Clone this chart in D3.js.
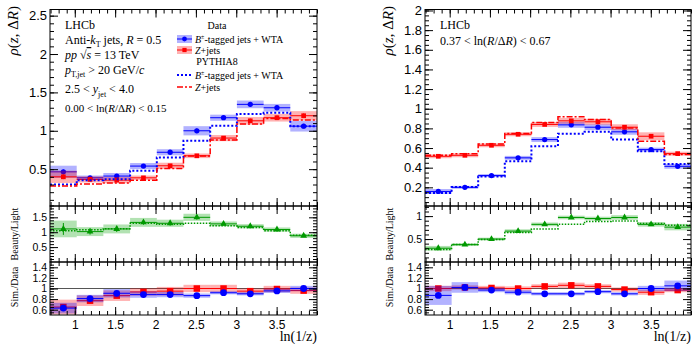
<!DOCTYPE html>
<html lang="en">
<head>
<meta charset="UTF-8" />
<title>rho(z, dR)</title>
<script src="https://cdn.jsdelivr.net/npm/d3@7"></script>
<style>
  body { margin: 0; background: #fff; }
  svg { display: block; font-family: "Liberation Serif", "DejaVu Serif", serif; }
  .tick line { stroke: #000; }
  .tick text { fill: #000; }
</style>
</head>
<body>
<div id="container"></div>
<script>
// ln(1/z) bin edges
const binEdges = [0.693, 1.024, 1.354, 1.685, 2.016, 2.346, 2.677, 3.008, 3.339, 3.669, 4.0];
const xMajor = [1, 1.5, 2, 2.5, 3, 3.5];

// left: 0.00 < ln(R/dR) < 0.15
const leftBData = [0.465, 0.387, 0.41, 0.54, 0.72, 1.0, 1.17, 1.344, 1.30, 1.06];
const leftBStat = [0.03, 0.02, 0.02, 0.02, 0.02, 0.03, 0.02, 0.03, 0.03, 0.03];
const leftBSyst = [0.08, 0.03, 0.04, 0.04, 0.04, 0.06, 0.04, 0.05, 0.05, 0.07];
const leftZData = [0.40, 0.366, 0.357, 0.387, 0.544, 0.674, 0.905, 1.13, 1.17, 1.196];
const leftZStat = [0.03, 0.02, 0.02, 0.02, 0.02, 0.02, 0.02, 0.03, 0.03, 0.03];
const leftZSyst = [0.08, 0.04, 0.04, 0.03, 0.04, 0.03, 0.04, 0.05, 0.05, 0.06];
const leftBSim = [0.30, 0.357, 0.37, 0.478, 0.653, 0.87, 1.065, 1.218, 1.235, 1.06];
const leftZSim = [0.279, 0.305, 0.32, 0.357, 0.51, 0.67, 0.88, 1.087, 1.16, 1.14];
const leftRatio = [1.11, 1.02, 1.11, 1.33, 1.30, 1.50, 1.28, 1.20, 1.09, 0.88];
const leftRatioStat = [0.2, 0.1, 0.1, 0.08, 0.08, 0.08, 0.05, 0.04, 0.04, 0.03];
const leftRatioSyst = [0.28, 0.15, 0.15, 0.15, 0.12, 0.12, 0.08, 0.07, 0.07, 0.07];
const leftRatioSim = [1.05, 1.08, 1.12, 1.30, 1.27, 1.30, 1.22, 1.16, 1.05, 0.90];
const leftBSimData = [0.63, 0.81, 0.91, 0.885, 0.885, 0.865, 0.92, 0.90, 0.955, 1.0];
const leftBSimDataErr = [0.1, 0.07, 0.08, 0.06, 0.05, 0.04, 0.03, 0.03, 0.04, 0.05];
const leftZSimData = [0.65, 0.77, 0.865, 0.935, 0.95, 1.0, 1.0, 0.95, 0.99, 0.96];
const leftZSimDataErr = [0.14, 0.1, 0.1, 0.07, 0.08, 0.07, 0.07, 0.05, 0.06, 0.06];

// right: 0.37 < ln(R/dR) < 0.67
const rightBData = [0.158, 0.20, 0.32, 0.50, 0.686, 0.836, 0.812, 0.765, 0.584, 0.414];
const rightBStat = [0.012, 0.008, 0.008, 0.01, 0.01, 0.012, 0.012, 0.012, 0.01, 0.01];
const rightBSyst = [0.025, 0.015, 0.015, 0.02, 0.025, 0.03, 0.03, 0.03, 0.02, 0.025];
const rightZData = [0.516, 0.526, 0.628, 0.74, 0.84, 0.877, 0.867, 0.812, 0.72, 0.543];
const rightZStat = [0.01, 0.008, 0.008, 0.008, 0.01, 0.01, 0.01, 0.01, 0.012, 0.012];
const rightZSyst = [0.02, 0.02, 0.02, 0.02, 0.025, 0.03, 0.03, 0.03, 0.04, 0.02];
const rightBSim = [0.142, 0.203, 0.31, 0.465, 0.618, 0.745, 0.765, 0.686, 0.566, 0.437];
const rightZSim = [0.527, 0.543, 0.64, 0.748, 0.86, 0.918, 0.89, 0.805, 0.67, 0.533];
const rightRatio = [0.30, 0.378, 0.50, 0.673, 0.82, 0.97, 0.947, 0.97, 0.82, 0.76];
const rightRatioStat = [0.03, 0.02, 0.02, 0.03, 0.03, 0.03, 0.03, 0.03, 0.03, 0.04];
const rightRatioSyst = [0.05, 0.03, 0.03, 0.04, 0.04, 0.04, 0.04, 0.05, 0.05, 0.07];
const rightRatioSim = [0.27, 0.38, 0.49, 0.64, 0.72, 0.82, 0.88, 0.895, 0.84, 0.80];
const rightBSimData = [0.87, 1.02, 0.97, 0.93, 0.90, 0.90, 0.94, 0.90, 1.0, 1.05];
const rightBSimDataErr = [0.18, 0.1, 0.04, 0.04, 0.03, 0.03, 0.03, 0.03, 0.05, 0.1];
const rightZSimData = [1.0, 1.02, 1.01, 1.0, 1.04, 1.06, 1.04, 0.98, 0.93, 0.97];
const rightZSimDataErr = [0.05, 0.04, 0.04, 0.04, 0.04, 0.05, 0.04, 0.04, 0.05, 0.04];

const BLUE = "#0000ff", RED = "#ff0000", GREEN = "#009900";
const BLUE_BAND = "rgba(0,0,255,0.3)", RED_BAND = "rgba(255,0,0,0.3)", GREEN_BAND = "rgba(0,160,0,0.3)";

const W = 698, H = 344;
const svg = d3.select("#container").append("svg").attr("width", W).attr("height", H);

const fmt = d => String(+d.toFixed(2));
const rng = (a, b, s) => d3.range(Math.round(a / s), Math.round(b / s) + 1).map(k => +(k * s).toFixed(3));

// ROOT style: inward ticks on all four sides
function frameAxes(g, x, y, yMajor, yMinor, opts) {
  const [x0, x1] = x.range(), [y1, y0] = y.range();
  const mk = (axis, tr, vals, len, labels, fs) => {
    const a = g.append("g").attr("transform", tr)
      .call(axis.tickValues(vals).tickSizeInner(-len).tickSizeOuter(0)
        .tickPadding(labels ? 3 : 0).tickFormat(labels ? fmt : ""));
    a.select(".domain").remove();
    a.selectAll("text").style("font-size", fs + "px").style("font-family", "inherit");
    return a;
  };
  mk(d3.axisLeft(y), `translate(${x0},0)`, yMajor, 8, true, opts.yfs);
  mk(d3.axisLeft(y), `translate(${x0},0)`, yMinor, 4, false);
  mk(d3.axisRight(y), `translate(${x1},0)`, yMajor, 8, false);
  mk(d3.axisRight(y), `translate(${x1},0)`, yMinor, 4, false);
  const xMinor = rng(0.7, 4.0, 0.1);
  mk(d3.axisTop(x), `translate(0,${y0})`, xMajor, 8, false);
  mk(d3.axisTop(x), `translate(0,${y0})`, xMinor, 4, false);
  const xb = mk(d3.axisBottom(x), `translate(0,${y1})`, xMajor, 8, opts.xlabels, 12);
  mk(d3.axisBottom(x), `translate(0,${y1})`, xMinor, 4, false);
  if (opts.xlabels) xb.selectAll("text").attr("dy", "0.71em").attr("y", 5);
  g.append("rect").attr("x", x0).attr("y", y0).attr("width", x1 - x0).attr("height", y1 - y0)
    .attr("fill", "none").attr("stroke", "#000").attr("stroke-width", 1);
}

function drawData(g, x, y, vals, stat, syst, color, band, marker, ms) {
  const bins = vals.map((v, i) => ({ v, s: stat ? stat[i] : 0, e: syst[i], a: binEdges[i], b: binEdges[i + 1] }));
  g.selectAll(null).data(bins).enter().append("rect")
    .attr("x", d => x(d.a)).attr("width", d => x(d.b) - x(d.a))
    .attr("y", d => y(d.v + d.e)).attr("height", d => y(d.v - d.e) - y(d.v + d.e))
    .attr("fill", band);
  g.selectAll(null).data(bins).enter().append("line")
    .attr("x1", d => x(d.a)).attr("x2", d => x(d.b))
    .attr("y1", d => y(d.v)).attr("y2", d => y(d.v))
    .attr("stroke", color).attr("stroke-width", 1);
  g.selectAll(null).data(bins).enter().append("line")
    .attr("x1", d => x((d.a + d.b) / 2)).attr("x2", d => x((d.a + d.b) / 2))
    .attr("y1", d => y(d.v - d.s)).attr("y2", d => y(d.v + d.s))
    .attr("stroke", color).attr("stroke-width", 1);
  const sym = d3.symbol().type(marker).size(ms);
  g.selectAll(null).data(bins).enter().append("path")
    .attr("d", sym)
    .attr("transform", d => `translate(${x((d.a + d.b) / 2)},${y(d.v)})`)
    .attr("fill", color);
}

function drawSim(g, x, y, vals, color, dash, width) {
  const pts = vals.map((v, i) => [binEdges[i], v]).concat([[binEdges[vals.length], vals[vals.length - 1]]]);
  g.append("path")
    .attr("d", d3.line().x(d => x(d[0])).y(d => y(d[1])).curve(d3.curveStepAfter)(pts))
    .attr("fill", "none").attr("stroke", color).attr("stroke-width", width)
    .attr("stroke-dasharray", dash);
}

function rotLabel(g, tx, ty, anchor, fs) {
  return g.append("text").attr("transform", `translate(${tx},${ty}) rotate(-90)`)
    .attr("text-anchor", anchor).style("font-size", fs + "px");
}

function drawPanel(p) {
  const g = svg.append("g");
  const x = d3.scaleLinear().domain([0.693, 4.0]).range([p.x0, p.x1]);
  const yMain = d3.scaleLinear().domain(p.mainDomain).range([206, 9.5]);
  const yRat = d3.scaleLinear().domain(p.ratDomain).range([262, 206]);
  const ySim = d3.scaleLinear().domain([0.5, 1.5]).range([315, 262]);

  // main panel
  const gm = g.append("g");
  drawData(gm, x, yMain, p.bData, p.bStat, p.bSyst, BLUE, BLUE_BAND, d3.symbolCircle, 22);
  drawData(gm, x, yMain, p.zData, p.zStat, p.zSyst, RED, RED_BAND, d3.symbolSquare, 22);
  drawSim(gm, x, yMain, p.bSim, BLUE, "2,2", 2);
  drawSim(gm, x, yMain, p.zSim, RED, "6,2,2,2", 1.5);
  frameAxes(g, x, yMain, p.mainMajor, p.mainMinor, { yfs: 13, xlabels: false });

  // beauty / light
  const gr = g.append("g");
  drawData(gr, x, yRat, p.ratio, p.ratioStat, p.ratioSyst, GREEN, GREEN_BAND, d3.symbolTriangle, 20);
  drawSim(gr, x, yRat, p.ratioSim, GREEN, "1.5,1.5", 1.5);
  frameAxes(g, x, yRat, p.ratMajor, rng(p.ratDomain[0], p.ratDomain[1], 0.1).filter(v => v > p.ratDomain[0]), { yfs: 10.5, xlabels: false });

  // sim / data
  const gs = g.append("g");
  gs.append("line").attr("x1", p.x0).attr("x2", p.x1).attr("y1", ySim(1)).attr("y2", ySim(1))
    .attr("stroke", "#555").attr("stroke-width", 1.2);
  drawData(gs, x, ySim, p.zSimData, null, p.zSimDataErr, RED, RED_BAND, d3.symbolSquare, 42);
  drawData(gs, x, ySim, p.bSimData, null, p.bSimDataErr, BLUE, BLUE_BAND, d3.symbolCircle, 36);
  frameAxes(g, x, ySim, [0.6, 0.8, 1, 1.2, 1.4], rng(0.55, 1.45, 0.05), { yfs: 10.5, xlabels: true });

  // titles
  const t = rotLabel(g, p.x0 - 32, 6, "end", 15);
  t.append("tspan").style("font-style", "italic").text("ρ");
  t.append("tspan").text("(");
  t.append("tspan").style("font-style", "italic").text("z");
  t.append("tspan").text(", Δ");
  t.append("tspan").style("font-style", "italic").text("R");
  t.append("tspan").text(")");
  rotLabel(g, p.x0 - 32, 234, "middle", 10).text("Beauty/Light");
  rotLabel(g, p.x0 - 32, 287, "middle", 10).text("Sim./Data");
  g.append("text").attr("x", p.x1).attr("y", 341).attr("text-anchor", "end")
    .style("font-size", "14px").text("ln(1/z)");
  return g;
}

function textLine(g, x, y, fs) {
  return g.append("text").attr("x", x).attr("y", y).style("font-size", fs + "px");
}
const it = (t, s, opts = {}) => {
  const sp = t.append("tspan").text(s);
  if (opts.i) sp.style("font-style", "italic");
  if (opts.dy) sp.attr("dy", opts.dy);
  if (opts.fs) sp.style("font-size", opts.fs + "px");
  return sp;
};

// left panel
const gl = drawPanel({
  x0: 50, x1: 317, mainDomain: [0.02, 2.58], ratDomain: [0, 1.88],
  mainMajor: [0.5, 1, 1.5, 2, 2.5], mainMinor: rng(0.1, 2.5, 0.1),
  ratMajor: [0.5, 1, 1.5],
  bData: leftBData, bStat: leftBStat, bSyst: leftBSyst,
  zData: leftZData, zStat: leftZStat, zSyst: leftZSyst,
  bSim: leftBSim, zSim: leftZSim,
  ratio: leftRatio, ratioStat: leftRatioStat, ratioSyst: leftRatioSyst, ratioSim: leftRatioSim,
  bSimData: leftBSimData, bSimDataErr: leftBSimDataErr, zSimData: leftZSimData, zSimDataErr: leftZSimDataErr
});

// right panel
const gr = drawPanel({
  x0: 425, x1: 691, mainDomain: [0.01, 2.01], ratDomain: [0, 1.22],
  mainMajor: rng(0.2, 2.0, 0.2), mainMinor: rng(0.05, 2.0, 0.05),
  ratMajor: [0.5, 1],
  bData: rightBData, bStat: rightBStat, bSyst: rightBSyst,
  zData: rightZData, zStat: rightZStat, zSyst: rightZSyst,
  bSim: rightBSim, zSim: rightZSim,
  ratio: rightRatio, ratioStat: rightRatioStat, ratioSyst: rightRatioSyst, ratioSim: rightRatioSim,
  bSimData: rightBSimData, bSimDataErr: rightBSimDataErr, zSimData: rightZSimData, zSimDataErr: rightZSimDataErr
});

// left annotations
textLine(gl, 65, 29, 12).text("LHCb");
let t = textLine(gl, 65, 44, 12);
it(t, "Anti-"); it(t, "k", { i: true }); it(t, "T", { dy: 3, fs: 8 }); it(t, " jets, ", { dy: -3 });
it(t, "R", { i: true }); it(t, " = 0.5");
t = textLine(gl, 65, 59, 12);
it(t, "pp", { i: true }); it(t, "  √"); 
it(t, "s", { i: true }).style("text-decoration", "overline"); it(t, " = 13 TeV");
t = textLine(gl, 65, 74, 12);
it(t, "p", { i: true }); it(t, "T,jet", { dy: 3, fs: 8 }); it(t, " > 20 GeV/", { dy: -3 }); it(t, "c", { i: true });
t = textLine(gl, 65, 93, 12);
it(t, "2.5 < "); it(t, "y", { i: true }); it(t, "jet", { dy: 4, fs: 8 }); it(t, " < 4.0", { dy: -4 });
t = textLine(gl, 65, 112, 11);
it(t, "0.00 < ln("); it(t, "R", { i: true }); it(t, "/Δ"); it(t, "R", { i: true }); it(t, ") < 0.15");

// legend
const lg = gl.append("g");
textLine(lg, 217, 29, 10).attr("text-anchor", "middle").text("Data");
const legRows = [
  { y: 39, kind: "data", color: BLUE, band: BLUE_BAND, sym: d3.symbolCircle },
  { y: 50, kind: "data", color: RED, band: RED_BAND, sym: d3.symbolSquare },
  { y: 75, kind: "sim", color: BLUE, dash: "2,2", w: 2 },
  { y: 87, kind: "sim", color: RED, dash: "6,2,2,2", w: 1.5 }
];
legRows.forEach((r, i) => {
  if (r.kind === "data") {
    lg.append("rect").attr("x", 177).attr("y", r.y - 4).attr("width", 15).attr("height", 8).attr("fill", r.band);
    lg.append("line").attr("x1", 177).attr("x2", 192).attr("y1", r.y).attr("y2", r.y).attr("stroke", r.color);
    lg.append("path").attr("d", d3.symbol().type(r.sym).size(18)()).attr("transform", `translate(184.5,${r.y})`).attr("fill", r.color);
  } else {
    lg.append("line").attr("x1", 177).attr("x2", 192).attr("y1", r.y).attr("y2", r.y)
      .attr("stroke", r.color).attr("stroke-width", r.w).attr("stroke-dasharray", r.dash);
  }
  const tt = textLine(lg, 195, r.y + 3.5, 10);
  if (i % 2 === 0) {
    it(tt, "B", { i: true }); it(tt, "±", { dy: -4, fs: 6 }); it(tt, "-tagged jets + WTA", { dy: 4 });
  } else {
    it(tt, "Z", { i: true }); it(tt, "+jets");
  }
});
textLine(lg, 217, 65, 10).attr("text-anchor", "middle").text("PYTHIA8");

// right annotations
textLine(gr, 440, 29, 12).text("LHCb");
t = textLine(gr, 440, 45, 12);
it(t, "0.37 < ln("); it(t, "R", { i: true }); it(t, "/Δ"); it(t, "R", { i: true }); it(t, ") < 0.67");
</script>
</body>
</html>
